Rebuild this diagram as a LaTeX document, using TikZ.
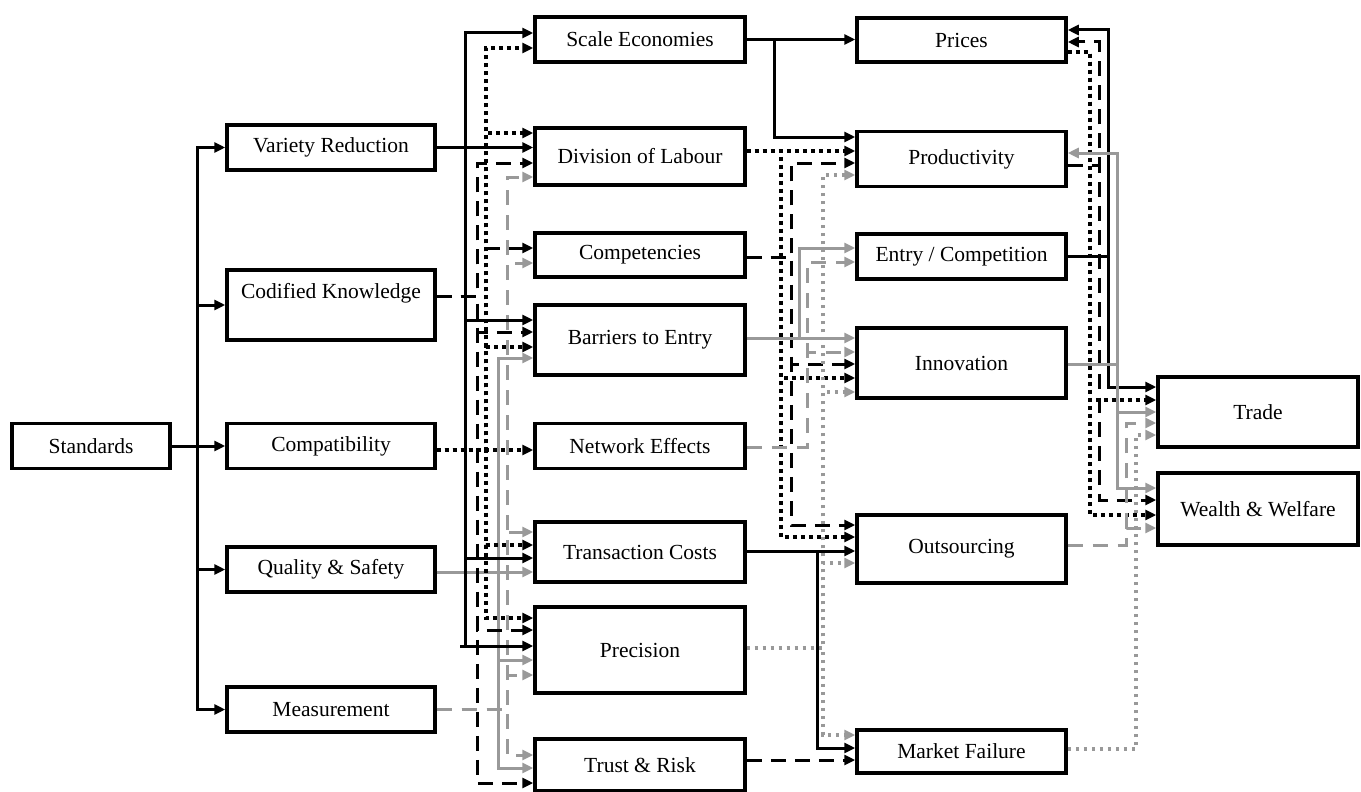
\documentclass[tikz,border=0pt]{standalone}
\usepackage{fontspec}
\setmainfont{Liberation Serif}
\usetikzlibrary{arrows.meta}
\definecolor{gr}{HTML}{999999}
\begin{document}
\begin{tikzpicture}[x=1pt,y=-1pt,
  box/.style={draw,line width=3.5pt,rectangle,inner sep=0pt,font=\fontsize{21.5}{24}\selectfont,fill=white},
  lc/.style={minimum width=208pt},
  mc/.style={minimum width=210pt},
  rc/.style={minimum width=209pt},
  fc/.style={minimum width=200pt},
  ks/.style={line width=3pt,draw=black,-{Triangle[length=11pt,width=10pt]}},
  kd/.style={ks,dash pattern=on 15pt off 9pt},
  kt/.style={ks,line width=4pt,dash pattern=on 4pt off 4pt},
  gs/.style={line width=3pt,draw=gr,-{Triangle[length=11pt,width=10pt,fill=gr]}},
  gd/.style={gs,dash pattern=on 15pt off 10pt},
  gt/.style={gs,line width=3.5pt,dash pattern=on 3.5pt off 4.5pt},
]
\useasboundingbox (0,0) rectangle (1361,792);
% buses
\coordinate (bS) at (197,0);
\coordinate (bV) at (465,0);
\coordinate (bV2) at (460,0);
\coordinate (bC) at (477,0);
\coordinate (bT) at (486,0);
\coordinate (bQ) at (498,0);
\coordinate (bM) at (507,0);
\coordinate (bE) at (774,0);
\coordinate (bD) at (781,0);
\coordinate (bK) at (791,0);
\coordinate (bB) at (799,0);
\coordinate (bN) at (807,0);
\coordinate (bTC) at (817,0);
\coordinate (bP) at (823,0);
\coordinate (bX3) at (1090,0);
\coordinate (bX2) at (1099,0);
\coordinate (bX1) at (1108,0);
\coordinate (bX4) at (1117,0);
\coordinate (bX5) at (1126,0);
\coordinate (bX6) at (1136,0);

% nodes
\node[box,minimum width=158pt,minimum height=45pt] (std) at (91,446) {Standards};
\node[box,lc,minimum height=45pt] (vr) at (331,147.5) {Variety Reduction};
\node[box,lc,minimum height=70pt,text height=15pt,text depth=29pt] (ck) at (331,305) {Codified Knowledge};
\node[box,lc,minimum height=45pt] (comp) at (331,446) {Compatibility};
\node[box,lc,minimum height=45pt] (qs) at (331,569.5) {Quality \& Safety};
\node[box,lc,minimum height=45pt] (meas) at (331,709.5) {Measurement};

\node[box,mc,minimum height=45pt] (se) at (640,39.5) {Scale Economies};
\node[box,mc,minimum height=57pt] (dol) at (640,156.5) {Division of Labour};
\node[box,mc,minimum height=44pt] (cmp) at (640,255) {Competencies};
\node[box,mc,minimum height=70pt] (bar) at (640,340) {Barriers to Entry};
\node[box,mc,minimum height=45pt] (ne) at (640,446) {Network Effects};
\node[box,mc,minimum height=60pt] (tc) at (640,552) {Transaction Costs};
\node[box,mc,minimum height=86pt] (prec) at (640,650) {Precision};
\node[box,mc,minimum height=52pt] (tr) at (640,765) {Trust \& Risk};

\node[box,rc,minimum height=44pt] (pr) at (961.5,40) {Prices};
\node[box,rc,minimum height=55pt] (prod) at (961.5,159) {Productivity};
\node[box,rc,minimum height=45pt] (ent) at (961.5,256.5) {Entry / Competition};
\node[box,rc,minimum height=70pt] (inn) at (961.5,363) {Innovation};
\node[box,rc,minimum height=68pt] (out) at (961.5,549) {Outsourcing};
\node[box,rc,minimum height=43pt] (mf) at (961.5,751.5) {Market Failure};

\node[box,fc,minimum height=70pt] (trade) at (1258,412) {Trade};
\node[box,fc,minimum height=72pt] (ww) at (1258,509) {Wealth \& Welfare};

% Standards
\draw[ks] (std.east) -- (std.east -| bS) |- (vr.west);
\draw[ks] (std.east) -- (std.east -| bS) |- (ck.west);
\draw[ks] (std.east) -- (comp.west);
\draw[ks] (std.east) -- (std.east -| bS) |- (qs.west);
\draw[ks] (std.east) -- (std.east -| bS) |- (meas.west);

% Measurement (gray dashed)
\draw[gd] (meas.east) -- (meas.east -| bM) |- ([yshift=-20.5pt]dol.west);
\draw[gd] (meas.east) -- (meas.east -| bM) |- ([yshift=-8pt]cmp.west);
\draw[gd] (meas.east) -- (meas.east -| bM) |- ([yshift=20pt]tc.west);
\draw[gd] (meas.east) -- (meas.east -| bM) |- ([yshift=-25pt]prec.west);
\draw[gd] (meas.east) -- (meas.east -| bM) |- ([yshift=10pt]tr.west);

% Quality & Safety (gray solid)
\draw[gs] ([yshift=-2.5pt]qs.east) -- ([yshift=-20pt]tc.west);
\draw[gs] ([yshift=-2.5pt]qs.east) -- ([yshift=-2.5pt]qs.east -| bQ) |- ([yshift=-18pt]bar.west);
\draw[gs] ([yshift=-2.5pt]qs.east) -- ([yshift=-2.5pt]qs.east -| bQ) |- ([yshift=-10pt]prec.west);
\draw[gs] ([yshift=-2.5pt]qs.east) -- ([yshift=-2.5pt]qs.east -| bQ) |- ([yshift=-3pt]tr.west);

% Variety Reduction (black solid)
\draw[ks] (vr.east) -- (vr.east -| dol.west);
\draw[ks] (vr.east) -- (vr.east -| bV) |- ([yshift=6.5pt]se.west);
\draw[ks] (vr.east) -- (vr.east -| bV) |- ([yshift=20pt]bar.west);
\draw[ks] (vr.east) -- (vr.east -| bV) |- ([yshift=-6pt]tc.west);
\draw[ks] (vr.east) -- (vr.east -| bV) |- ([yshift=4pt]prec.west);
\draw[line width=3pt] ([yshift=4pt]prec.west -| bV2) -- ([yshift=4pt]prec.west -| bV);

% Codified Knowledge (black dashed)
\draw[kd] ([yshift=9pt]ck.east) -- ([yshift=9pt]ck.east -| bC) |- ([yshift=-6.5pt]dol.west);
\draw[kd] ([yshift=9pt]ck.east) -- ([yshift=9pt]ck.east -| bC) |- ([yshift=7pt]cmp.west);
\draw[kd] ([yshift=9pt]ck.east) -- ([yshift=9pt]ck.east -| bC) |- ([yshift=8pt]bar.west);
\draw[kd] ([yshift=9pt]ck.east) -- ([yshift=9pt]ck.east -| bC) |- ([yshift=20pt]prec.west);
\draw[kd] ([yshift=9pt]ck.east) -- ([yshift=9pt]ck.east -| bC) |- ([yshift=-18pt]tr.west);

% Compatibility (black dotted)
\draw[kt] ([yshift=-4pt]comp.east) -- ([yshift=-4pt]ne.west);
\draw[kt] ([yshift=-4pt]comp.east) -- ([yshift=-4pt]comp.east -| bT) |- ([yshift=-8.5pt]se.west);
\draw[kt] ([yshift=-4pt]comp.east) -- ([yshift=-4pt]comp.east -| bT) |- ([yshift=23.5pt]dol.west);
\draw[kt] ([yshift=-4pt]comp.east) -- ([yshift=-4pt]comp.east -| bT) |- ([yshift=-7pt]bar.west);
\draw[kt] ([yshift=-4pt]comp.east) -- ([yshift=-4pt]comp.east -| bT) |- ([yshift=7pt]tc.west);
\draw[kt] ([yshift=-4pt]comp.east) -- ([yshift=-4pt]comp.east -| bT) |- ([yshift=32pt]prec.west);

% Scale Economies
\draw[ks] (se.east) -- (se.east -| pr.west);
\draw[ks] (se.east) -- (se.east -| bE) |- ([yshift=22pt]prod.west);

% Division of Labour (black dotted)
\draw[kt] ([yshift=5.5pt]dol.east) -- ([yshift=8pt]prod.west);
\draw[kt] ([yshift=5.5pt]dol.east) -- ([yshift=5.5pt]dol.east -| bD) |- ([yshift=-15pt]inn.west);
\draw[kt] ([yshift=5.5pt]dol.east) -- ([yshift=5.5pt]dol.east -| bD) |- ([yshift=12pt]out.west);

% Competencies (black dashed)
\draw[kd] ([yshift=-2pt]cmp.east) -- ([yshift=-2pt]cmp.east -| bK) |- ([yshift=-4pt]prod.west);
\draw[kd] ([yshift=-2pt]cmp.east) -- ([yshift=-2pt]cmp.east -| bK) |- ([yshift=-1pt]inn.west);
\draw[kd] ([yshift=-2pt]cmp.east) -- ([yshift=-2pt]cmp.east -| bK) |- ([yshift=24pt]out.west);

% Barriers to Entry (gray solid)
\draw[gs] ([yshift=2pt]bar.east) -- ([yshift=25pt]inn.west);
\draw[gs] ([yshift=2pt]bar.east) -- ([yshift=2pt]bar.east -| bB) |- ([yshift=8.5pt]ent.west);

% Network Effects (gray dashed)
\draw[gd] ([yshift=-1.5pt]ne.east) -- ([yshift=-1.5pt]ne.east -| bN) |- ([yshift=-5.5pt]ent.west);
\draw[gd] ([yshift=-1.5pt]ne.east) -- ([yshift=-1.5pt]ne.east -| bN) |- ([yshift=11pt]inn.west);

% Transaction Costs (black solid)
\draw[ks] ([yshift=1pt]tc.east) -- ([yshift=-2pt]out.west);
\draw[ks] ([yshift=1pt]tc.east) -- ([yshift=1pt]tc.east -| bTC) |- ([yshift=3.5pt]mf.west);

% Precision (gray dotted)
\draw[gt] ([yshift=2pt]prec.east) -- ([yshift=2pt]prec.east -| bP) |- ([yshift=-16pt]prod.west);
\draw[gt] ([yshift=2pt]prec.east) -- ([yshift=2pt]prec.east -| bP) |- ([yshift=-29pt]inn.west);
\draw[gt] ([yshift=2pt]prec.east) -- ([yshift=2pt]prec.east -| bP) |- ([yshift=-14pt]out.west);
\draw[gt] ([yshift=2pt]prec.east) -- ([yshift=2pt]prec.east -| bP) |- ([yshift=16.5pt]mf.west);

% Trust & Risk (black dashed)
\draw[kd] ([yshift=5pt]tr.east) -- ([yshift=-8.5pt]mf.west);

% Entry / Competition (black solid)
\draw[ks] (ent.east) -- (ent.east -| bX1) |- ([yshift=10pt]pr.east);
\draw[ks] (ent.east) -- (ent.east -| bX1) |- ([yshift=25pt]trade.west);

% Productivity (black dashed)
\draw[kd] ([yshift=-6pt]prod.east) -- ([yshift=-6pt]prod.east -| bX2) |- ([yshift=-2pt]pr.east);
\draw[kd] ([yshift=-6pt]prod.east) -- ([yshift=-6pt]prod.east -| bX2) |- ([yshift=9pt]ww.west);

% Prices (black dotted)
\draw[kt] ([yshift=-12pt]pr.east) -- ([yshift=-12pt]pr.east -| bX3) |- ([yshift=12pt]trade.west);
\draw[kt] ([yshift=-12pt]pr.east) -- ([yshift=-12pt]pr.east -| bX3) |- ([yshift=-6pt]ww.west);

% Innovation (gray solid)
\draw[gs] ([yshift=-1pt]inn.east) -- ([yshift=-1pt]inn.east -| bX4) |- ([yshift=6pt]prod.east);
\draw[gs] ([yshift=-1pt]inn.east) -- ([yshift=-1pt]inn.east -| bX4) |- (trade.west);
\draw[gs] ([yshift=-1pt]inn.east) -- ([yshift=-1pt]inn.east -| bX4) |- ([yshift=21pt]ww.west);

% Outsourcing (gray dashed)
\draw[gd] ([yshift=4pt]out.east) -- ([yshift=4pt]out.east -| bX5) |- ([yshift=-11pt]trade.west);
\draw[gd] ([yshift=4pt]out.east) -- ([yshift=4pt]out.east -| bX5) |- ([yshift=-19pt]ww.west);

% Market Failure (gray dotted)
\draw[gt] ([yshift=2.5pt]mf.east) -- ([yshift=2.5pt]mf.east -| bX6) |- ([yshift=-23pt]trade.west);
\end{tikzpicture}
\end{document}
